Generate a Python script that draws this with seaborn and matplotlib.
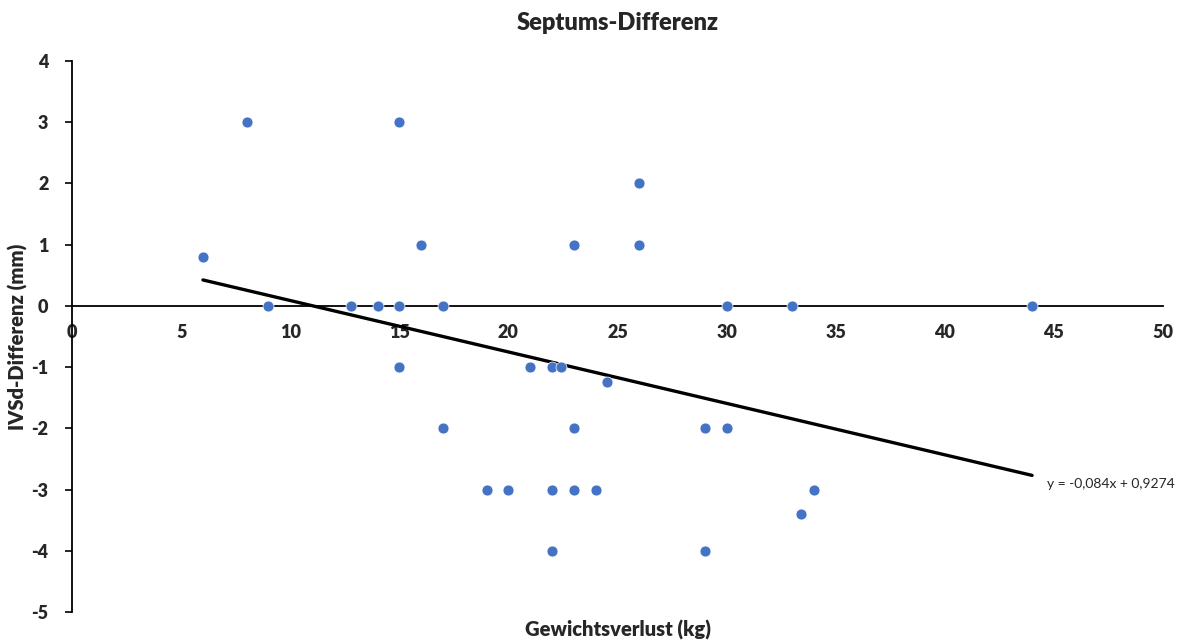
import matplotlib.pyplot as plt
import pandas as pd
import seaborn as sns

weight_loss = [6, 8, 9, 12.8, 14, 15, 15, 15, 16, 17, 17, 19, 20, 21, 22, 22.4,
               22, 22, 23, 23, 23, 24, 24.5, 26, 26, 29, 29, 30, 30, 33, 33.4, 34, 44]
ivsd_diff = [0.8, 3, 0, 0, 0, 0, 3, -1, 1, 0, -2, -3, -3, -1, -1, -1,
             -3, -4, 1, -2, -3, -3, -1.25, 2, 1, -2, -4, 0, -2, 0, -3.4, -3, 0]

slope = -0.084
intercept = 0.9274
x_ticks = [0, 5, 10, 15, 20, 25, 30, 35, 40, 45, 50]
y_ticks = [-5, -4, -3, -2, -1, 0, 1, 2, 3, 4]

df = pd.DataFrame({"x": weight_loss, "y": ivsd_diff})

sns.set_style("white")
plt.rcParams["font.family"] = ["Lato", "DejaVu Sans"]
plt.rcParams["axes.unicode_minus"] = False

fig = plt.figure(figsize=(11.83, 6.44), dpi=100)
ax = fig.add_axes([0.0609, 0.0497, 0.9222, 0.8556])

sns.scatterplot(data=df, x="x", y="y", color="#4472C4", s=62,
                edgecolor="white", linewidth=0.5, ax=ax, zorder=3)

# trend line from the equation, over the range of the data
xs = [min(weight_loss), max(weight_loss)]
ax.plot(xs, [slope * v + intercept for v in xs], color="black", lw=2.4, zorder=2)
ax.text(xs[1] + 0.7, slope * xs[1] + intercept - 0.05,
        "y = -0,084x + 0,9274", fontsize=10, va="top", ha="left")

ax.set_xlim(0, 50)
ax.set_ylim(-5, 4)
ax.set_xticks(x_ticks)
ax.set_yticks(y_ticks)

for s in ["top", "right"]:
    ax.spines[s].set_visible(False)
ax.spines["bottom"].set_position(("data", 0))
ax.spines["left"].set_position(("data", 0))
for s in ["bottom", "left"]:
    ax.spines[s].set_color("black")
    ax.spines[s].set_linewidth(1.3)

ax.tick_params(axis="x", length=0, pad=13, labelsize=13)
ax.tick_params(axis="y", length=5, width=1.2, color="black", direction="out",
               left=True, pad=12, labelsize=13)
for lbl in ax.get_xticklabels() + ax.get_yticklabels():
    lbl.set_fontweight("heavy")

ax.set_title("Septums-Differenz", fontsize=17, fontweight="heavy", pad=22)
ax.set_xlabel("Gewichtsverlust (kg)", fontsize=14.5, fontweight="heavy", va="center")
ax.set_ylabel("IVSd-Differenz (mm)", fontsize=14.5, fontweight="heavy", va="center")
ax.xaxis.set_label_coords(0.5, -0.033)
ax.yaxis.set_label_coords(-0.05, 0.5)

fig.savefig("out.png", dpi=100)
